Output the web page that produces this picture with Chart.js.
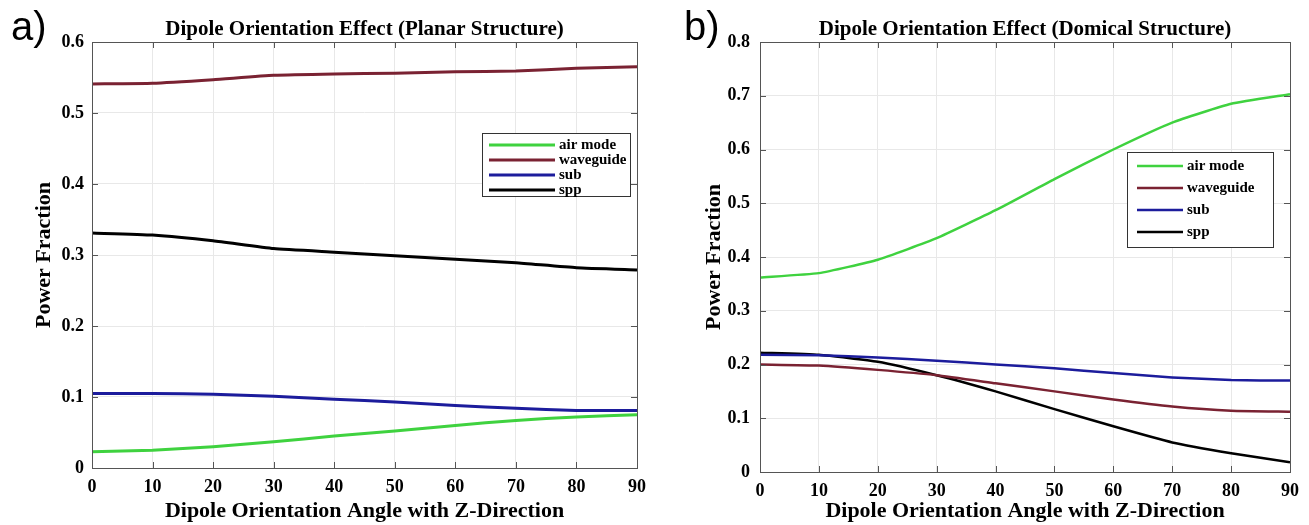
<!DOCTYPE html>
<html>
<head>
<meta charset="utf-8">
<script src="https://cdn.jsdelivr.net/npm/chart.js@4.4.1/dist/chart.umd.min.js"></script>
<style>
  body { margin: 0; background: #fff; }
  .wrap { position: relative; width: 1309px; height: 525px; }
  .panel { position: absolute; top: 0; height: 525px; }
  .tag { position: absolute; top: 6px; font-family: "Liberation Sans", Arial, sans-serif; font-size: 40px; color: #000; line-height: 1; }
</style>
</head>
<body>
<div class="wrap">
  <div class="panel" style="left:0;width:655px"><canvas id="chartA"></canvas></div>
  <div class="panel" style="left:655px;width:654px"><canvas id="chartB"></canvas></div>
  <div class="tag" style="left:11px">a)</div>
  <div class="tag" style="left:684px">b)</div>
</div>
<script>
// Data (power fraction vs dipole angle)
const angles = [0, 10, 20, 30, 40, 50, 60, 70, 80, 90];
const seriesNames = ['air mode', 'waveguide', 'sub', 'spp'];

const planarAir = [0.023, 0.025, 0.030, 0.037, 0.045, 0.052, 0.060, 0.067, 0.072, 0.075];
const planarWaveguide = [0.541, 0.542, 0.547, 0.553, 0.555, 0.556, 0.558, 0.559, 0.563, 0.565];
const planarSub = [0.105, 0.105, 0.104, 0.101, 0.097, 0.093, 0.088, 0.084, 0.081, 0.081];
const planarSpp = [0.331, 0.328, 0.320, 0.309, 0.304, 0.299, 0.294, 0.289, 0.282, 0.279];

const domicalAir = [0.362, 0.370, 0.395, 0.435, 0.487, 0.545, 0.600, 0.650, 0.685, 0.703];
const domicalWaveguide = [0.200, 0.198, 0.190, 0.180, 0.165, 0.150, 0.135, 0.122, 0.114, 0.112];
const domicalSub = [0.218, 0.217, 0.213, 0.207, 0.200, 0.193, 0.184, 0.176, 0.171, 0.170];
const domicalSpp = [0.222, 0.218, 0.205, 0.180, 0.150, 0.117, 0.085, 0.055, 0.035, 0.018];

const planarTicks = [0, 0.1, 0.2, 0.3, 0.4, 0.5, 0.6];
const domicalTicks = [0, 0.1, 0.2, 0.3, 0.4, 0.5, 0.6, 0.7, 0.8];

const colors = ['#3fd23f', '#7a2232', '#1c1c9c', '#000000'];
const serif = '"Liberation Serif", "Times New Roman", serif';

function toPoints(vals) {
    return vals.map((v, i) => ({ x: angles[i], y: v }));
}

// MATLAB-like frame, inner ticks, title and legend box
const framePlugin = {
    id: 'frame',
    afterDraw(chart, args, opts) {
        const { ctx, chartArea: a, scales } = chart;
        ctx.save();
        ctx.strokeStyle = '#555';
        ctx.lineWidth = 1;
        ctx.strokeRect(a.left + 0.5, a.top + 0.5, a.right - a.left, a.bottom - a.top);
        ctx.beginPath();
        angles.forEach(t => {
            const x = Math.round(scales.x.getPixelForValue(t)) + 0.5;
            ctx.moveTo(x, a.bottom); ctx.lineTo(x, a.bottom - 6);
            ctx.moveTo(x, a.top); ctx.lineTo(x, a.top + 6);
        });
        opts.yTicks.forEach(t => {
            const y = Math.round(scales.y.getPixelForValue(t)) + 0.5;
            ctx.moveTo(a.left, y); ctx.lineTo(a.left + 6, y);
            ctx.moveTo(a.right, y); ctx.lineTo(a.right - 6, y);
        });
        ctx.stroke();

        // title
        ctx.fillStyle = '#000';
        ctx.font = 'bold 21px ' + serif;
        ctx.textAlign = 'center';
        ctx.textBaseline = 'alphabetic';
        ctx.fillText(opts.title, (a.left + a.right) / 2, a.top - 7);

        // legend
        const lg = opts.legend;
        const x0 = a.right - lg.right - lg.width;
        const y0 = a.top + lg.top;
        ctx.fillStyle = '#fff';
        ctx.fillRect(x0, y0, lg.width, lg.height);
        ctx.strokeStyle = '#333';
        ctx.strokeRect(x0 + 0.5, y0 + 0.5, lg.width, lg.height);
        ctx.font = 'bold 15px ' + serif;
        ctx.textAlign = 'left';
        ctx.textBaseline = 'middle';
        chart.data.datasets.forEach((ds, i) => {
            const y = y0 + lg.first + i * lg.step;
            ctx.strokeStyle = ds.borderColor;
            ctx.lineWidth = ds.borderWidth;
            ctx.beginPath();
            ctx.moveTo(x0 + lg.lineX, y);
            ctx.lineTo(x0 + lg.lineX + lg.lineLen, y);
            ctx.stroke();
            ctx.fillStyle = '#000';
            ctx.fillText(ds.label, x0 + lg.lineX + lg.lineLen + 4, y);
        });
        ctx.restore();
    }
};

function makeChart(id, w, series, yMax, yTicks, title, lay, legend, lw) {
    const el = document.getElementById(id);
    el.width = w; el.height = 525;
    return new Chart(el, {
        type: 'line',
        data: {
            datasets: series.map((vals, i) => ({
                label: seriesNames[i],
                data: toPoints(vals),
                borderColor: colors[i],
                borderWidth: lw,
                pointRadius: 0,
                tension: 0.15,
                fill: false
            }))
        },
        options: {
            responsive: false,
            animation: false,
            layout: { padding: { left: lay.padLeft, right: lay.padRight, top: 42, bottom: 0 } },
            plugins: {
                legend: { display: false },
                tooltip: { enabled: false },
                frame: { title: title, legend: legend, yTicks: yTicks }
            },
            scales: {
                x: {
                    type: 'linear', min: 0, max: 90,
                    afterBuildTicks: s => { s.ticks = angles.map(v => ({ value: v })); },
                    afterFit: s => { s.height = lay.xHeight; },
                    grid: { color: '#e8e8e8', drawTicks: false },
                    border: { display: false },
                    ticks: { padding: 9, color: '#000', font: { family: serif, size: 18, weight: 'bold' }, maxRotation: 0 },
                    title: { display: true, text: 'Dipole Orientation Angle with Z-Direction', color: '#000',
                             font: { family: serif, size: 22, weight: 'bold' }, padding: { top: 0, bottom: 0 } }
                },
                y: {
                    min: 0, max: yMax,
                    afterBuildTicks: s => { s.ticks = yTicks.map(v => ({ value: v })); },
                    afterFit: s => { s.width = lay.yWidth; },
                    grid: { color: '#e8e8e8', drawTicks: false },
                    border: { display: false },
                    ticks: { padding: lay.tickPad, color: '#000', font: { family: serif, size: 18, weight: 'bold' },
                             callback: v => v === 0 ? '0' : v.toFixed(1) },
                    title: { display: true, text: 'Power Fraction', color: '#000',
                             font: { family: serif, size: 22, weight: 'bold' }, padding: 2 }
                }
            }
        },
        plugins: [framePlugin]
    });
}

makeChart('chartA', 655,
    [planarAir, planarWaveguide, planarSub, planarSpp],
    0.6, planarTicks, 'Dipole Orientation Effect (Planar Structure)',
    { padLeft: 29, yWidth: 63, tickPad: 8, padRight: 13, xHeight: 57 },
    { right: 7, top: 91, width: 148, height: 63, first: 12, step: 15, lineX: 7, lineLen: 66 },
    3);

makeChart('chartB', 654,
    [domicalAir, domicalWaveguide, domicalSub, domicalSpp],
    0.8, domicalTicks, 'Dipole Orientation Effect (Domical Structure)',
    { padLeft: 44, yWidth: 61, tickPad: 10, padRight: 19, xHeight: 53 },
    { right: 17, top: 110, width: 146, height: 95, first: 14, step: 22, lineX: 10, lineLen: 46 },
    2.5);
</script>
</body>
</html>
